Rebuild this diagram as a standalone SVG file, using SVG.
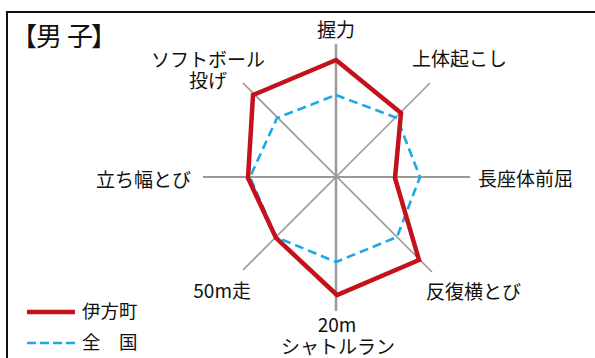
<svg xmlns="http://www.w3.org/2000/svg" width="595" height="358" viewBox="0 0 595 358">
<style>
text{font-family:"Noto Sans CJK JP","Noto Sans",sans-serif;font-size:19px;fill:#111}
.ttl{font-size:26px}
.ax{stroke:#9a9a9a;stroke-width:2;fill:none}
.town{stroke:#c3121b;stroke-width:4.5;fill:none;stroke-linejoin:miter}
.nat{stroke:#1ea7e9;stroke-width:2.6;fill:none;stroke-dasharray:9 5}
</style>
<rect width="595" height="358" fill="#fff"/>
<g id="frame">
<line x1="7" y1="12" x2="595" y2="12" stroke="#111" stroke-width="2"/>
<line x1="7" y1="11" x2="7" y2="358" stroke="#111" stroke-width="2"/>
</g>
<g id="title">
<text class="ttl" x="24" y="46" text-anchor="middle">【</text>
<text class="ttl" x="49" y="46" text-anchor="middle">男</text>
<text class="ttl" x="80" y="46" text-anchor="middle">子</text>
<text class="ttl" x="104" y="46" text-anchor="middle">】</text>
</g>
<g id="connectors">
<line class="ax" x1="336" y1="44" x2="336" y2="311" style="stroke-width:2.5"/>
<line class="ax" x1="203" y1="177" x2="470" y2="177"/>
<line class="ax" x1="243" y1="83" x2="432" y2="272" style="stroke-width:1.6"/>
<line class="ax" x1="430" y1="83" x2="243" y2="270" style="stroke-width:1.6"/>
</g>
<g id="national">
<polygon class="nat" points="336,95 397,118 420,177 397,237 336,262 276,237 250,177 277,118"/>
</g>
<g id="town">
<polygon class="town" points="336,60 401,113 395,178 419,260 337,295 276,238 248,178 253,95"/>
</g>
<g id="labels">
<text id="grip" x="336" y="37" text-anchor="middle">握力</text>
<text id="situp" x="412" y="66">上体起こし</text>
<text id="sitreach" x="478" y="186">長座体前屈</text>
<text id="sidestep" x="426" y="299">反復横とび</text>
<g id="shuttle">
<text x="337" y="332" text-anchor="middle">20m</text>
<text x="338" y="354" text-anchor="middle">シャトルラン</text>
</g>
<text id="dash50" x="251" y="298" text-anchor="end">50m走</text>
<text id="jump" x="191" y="187" text-anchor="end">立ち幅とび</text>
<g id="softball">
<text x="208" y="67" text-anchor="middle">ソフトボール</text>
<text x="208" y="88" text-anchor="middle">投げ</text>
</g>
</g>
<g id="legend">
<line x1="27" y1="312" x2="75" y2="312" stroke="#c3121b" stroke-width="4.5"/>
<text x="82" y="318" style="font-size:18.5px">伊方町</text>
<line x1="27" y1="343" x2="75" y2="343" stroke="#1ea7e9" stroke-width="2.6" stroke-dasharray="9 4"/>
<text x="82" y="349" style="font-size:18.5px">全　国</text>
</g>
</svg>
